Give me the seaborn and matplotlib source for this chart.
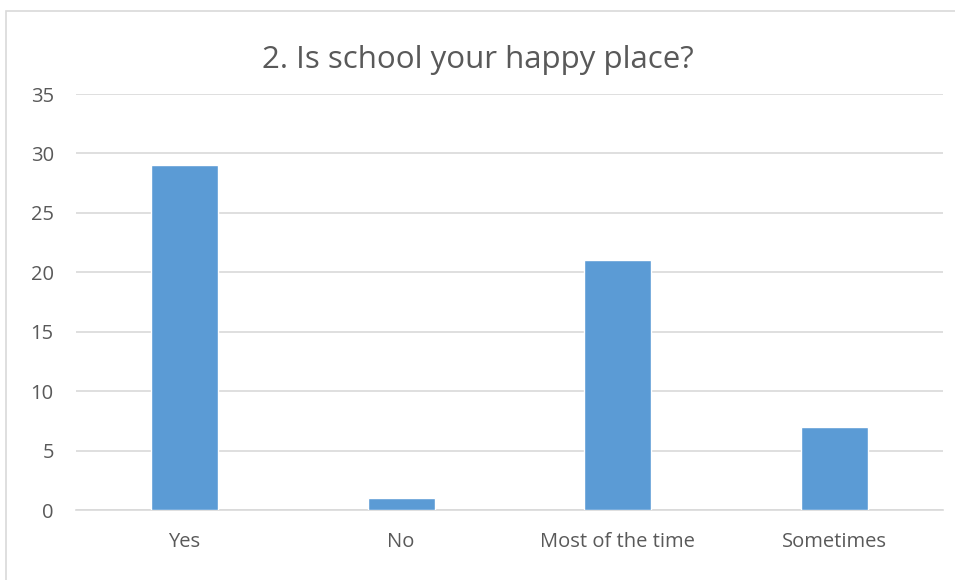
import matplotlib
matplotlib.use("Agg")
import matplotlib.pyplot as plt
import matplotlib.patches as patches
import seaborn as sns
import pandas as pd

categories = ["Yes", "No", "Most of the time", "Sometimes"]
counts = [29, 1, 21, 7]
y_ticks = [0, 5, 10, 15, 20, 25, 30, 35]

data = pd.DataFrame({"Answer": categories, "Count": counts})

sns.set_style("white")
plt.rcParams['font.family'] = ['Open Sans', 'DejaVu Sans']

fig = plt.figure(figsize=(9.55, 5.8), dpi=100)
ax = fig.add_axes([76 / 955, 70 / 580, 867 / 955, 416 / 580])

sns.barplot(x="Answer", y="Count", data=data, color="#5B9BD5", width=0.31,
            saturation=1, ax=ax, zorder=3)

ax.set_ylim(0, 35)
ax.set_yticks(y_ticks)
ax.set_xlim(-0.5, 3.5)
ax.yaxis.grid(True, color="#D9D9D9", linewidth=1.2, zorder=0)
ax.set_axisbelow(True)
for s in ["top", "right", "left"]:
    ax.spines[s].set_visible(False)
ax.spines["bottom"].set_color("#D9D9D9")
ax.spines["bottom"].set_linewidth(1.2)
ax.tick_params(axis="both", length=0, labelsize=14.5, labelcolor="#595959")
ax.tick_params(axis="x", pad=16)
ax.tick_params(axis="y", pad=16)
ax.set_xlabel("")
ax.set_ylabel("")

fig.text(0.5, 1 - 60 / 580, "2. Is school your happy place?", ha="center", va="center",
         fontsize=22.5, color="#595959")

border = patches.Rectangle((6 / 955, -0.1), 1.2, 1 - 11 / 580 + 0.1, transform=fig.transFigure,
                           fill=False, edgecolor="#D9D9D9", linewidth=1.2)
fig.patches.append(border)

plt.savefig("out.png", dpi=100)
